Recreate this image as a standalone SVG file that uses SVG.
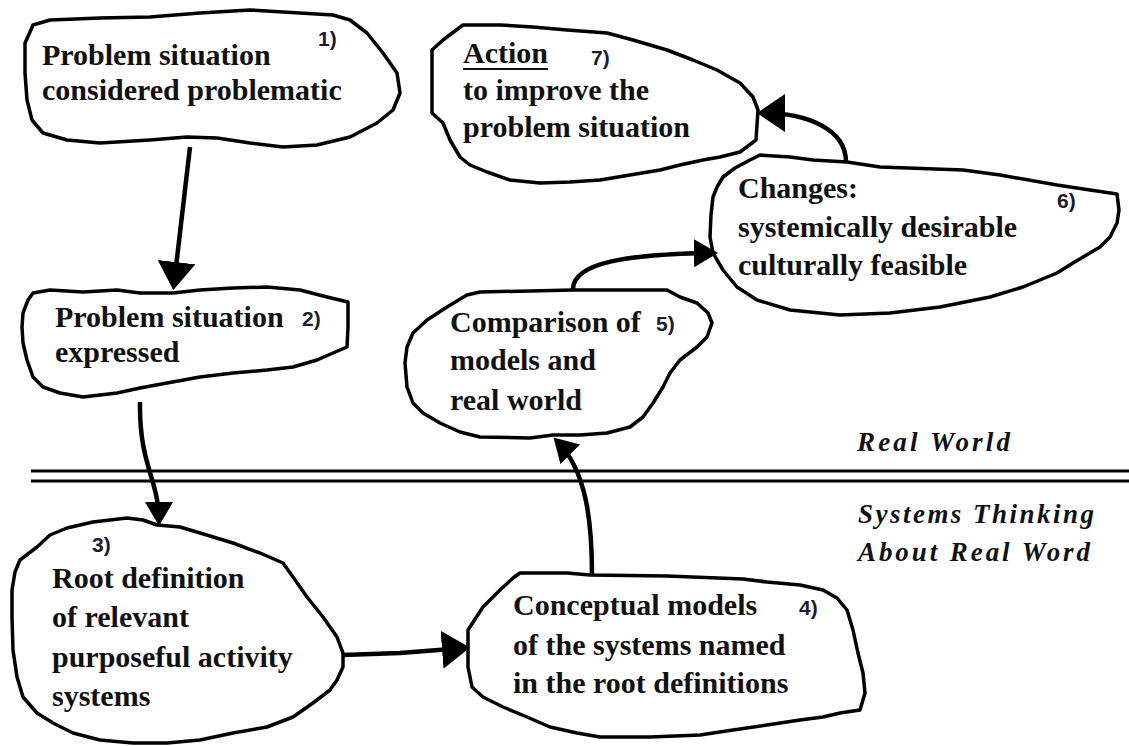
<svg xmlns="http://www.w3.org/2000/svg" width="1129" height="746" viewBox="0 0 1129 746">
  <style>
    .blob { fill: #ffffff; stroke: #000000; stroke-width: 3.5; stroke-linejoin: round; }
    .lbl { font-weight: bold; font-size: 30px; fill: #111111; }
    .num { font-weight: bold; font-size: 21px; fill: #1c1c30; }
    .zone { font-weight: bold; font-style: italic; font-size: 27px; fill: #111111; }
    .conn { fill: none; stroke: #000000; stroke-width: 4.5; stroke-linecap: butt; }
    .sep { stroke: #000000; stroke-width: 3; }
  </style>
  <defs>
    <marker id="arrow" markerUnits="userSpaceOnUse" markerWidth="28" markerHeight="38" viewBox="0 0 28 38" refX="22" refY="19" orient="auto">
      <path d="M0,0 L28,19 L0,38 Z" fill="#000000"/>
    </marker>
    <marker id="arrow-sm" markerUnits="userSpaceOnUse" markerWidth="24" markerHeight="28" viewBox="0 0 24 28" refX="19" refY="14" orient="auto">
      <path d="M0,0 L24,14 L0,28 Z" fill="#000000"/>
    </marker>
  </defs>

  <rect x="0" y="0" width="1129" height="746" fill="#ffffff"/>

  <!-- boundary between the real world and systems thinking -->
  <g id="separator" font-family="Liberation Serif, Times New Roman, serif">
    <line class="sep" x1="31" y1="471" x2="1129" y2="471"/>
    <line class="sep" x1="31" y1="481" x2="1129" y2="481"/>
    <text class="zone" x="857" y="451" textLength="153" lengthAdjust="spacing">Real World</text>
    <text class="zone" x="858" y="523" textLength="236" lengthAdjust="spacing">Systems Thinking</text>
    <text class="zone" x="858" y="561" textLength="232" lengthAdjust="spacing">About Real Word</text>
  </g>

  <!-- 1) problem situation considered problematic -->
  <g id="node1" font-family="Liberation Serif, Times New Roman, serif">
    <path class="blob" d="M33,25 L50,20 L100,18 L150,17 L200,13 L250,10 L283,12 L333,15 L350,20 L367,33 L383,53 L397,73 L400,93 L393,110 L377,123 L350,137 L317,145 L283,147 L250,143 L217,138 L187,137 L150,140 L100,143 L67,140 L43,133 L32,120 L27,100 L25,73 L25,43 L30,32 Z"/>
    <text class="lbl" x="42" y="65">Problem situation</text>
    <text class="lbl" x="42" y="100">considered problematic</text>
    <text class="num" x="318" y="46" font-family="Liberation Sans, Arial, sans-serif">1)</text>
  </g>

  <!-- 2) problem situation expressed -->
  <g id="node2" font-family="Liberation Serif, Times New Roman, serif">
    <path class="blob" d="M33,293 L50,290 L83,292 L117,290 L140,293 L173,293 L200,290 L233,288 L267,287 L300,290 L327,297 L348,302 L348,327 L347,347 L333,353 L317,360 L293,367 L267,370 L233,373 L200,377 L167,383 L140,388 L117,393 L83,397 L60,393 L43,387 L33,377 L27,360 L23,343 L22,327 L23,313 L28,300 Z"/>
    <text class="lbl" x="55" y="327">Problem situation</text>
    <text class="lbl" x="55" y="362">expressed</text>
    <text class="num" x="302" y="326" font-family="Liberation Sans, Arial, sans-serif">2)</text>
  </g>

  <!-- 3) root definitions -->
  <g id="node3" font-family="Liberation Serif, Times New Roman, serif">
    <path class="blob" d="M15,572 L20,560 L37,547 L50,535 L67,528 L93,522 L127,518 L143,520 L157,525 L180,527 L200,533 L233,543 L260,553 L283,563 L293,577 L307,597 L323,617 L337,637 L343,653 L343,667 L337,680 L330,690 L313,703 L293,717 L267,727 L233,733 L200,740 L167,743 L133,743 L100,740 L73,733 L53,723 L37,713 L23,697 L17,677 L13,650 L12,617 L12,590 Z"/>
    <text class="num" x="92" y="552" font-family="Liberation Sans, Arial, sans-serif">3)</text>
    <text class="lbl" x="52" y="588">Root definition</text>
    <text class="lbl" x="52" y="627">of relevant</text>
    <text class="lbl" x="52" y="667">purposeful activity</text>
    <text class="lbl" x="52" y="706">systems</text>
  </g>

  <!-- 4) conceptual models -->
  <g id="node4" font-family="Liberation Serif, Times New Roman, serif">
    <path class="blob" d="M468,630 L483,607 L500,590 L513,578 L520,573 L567,573 L590,575 L667,576 L743,579 L767,582 L800,585 L823,590 L837,598 L847,610 L853,630 L858,653 L863,673 L865,693 L860,710 L840,713 L823,717 L800,720 L767,725 L733,730 L700,735 L650,737 L600,737 L577,733 L550,727 L527,717 L503,707 L483,697 L472,687 L468,667 L468,647 Z"/>
    <text class="lbl" x="513" y="615">Conceptual models</text>
    <text class="lbl" x="513" y="655">of the systems named</text>
    <text class="lbl" x="513" y="693">in the root definitions</text>
    <text class="num" x="799" y="615" font-family="Liberation Sans, Arial, sans-serif">4)</text>
  </g>

  <!-- 5) comparison of models and real world -->
  <g id="node5" font-family="Liberation Serif, Times New Roman, serif">
    <path class="blob" d="M467,295 L480,292 L573,290 L667,290 L680,297 L697,303 L708,313 L712,323 L707,337 L697,347 L680,360 L670,373 L663,387 L653,403 L643,417 L630,427 L607,433 L580,435 L553,435 L530,438 L480,437 L460,432 L440,423 L423,413 L413,403 L407,387 L405,363 L407,347 L413,333 L427,320 L447,307 Z"/>
    <text class="lbl" x="450" y="332">Comparison of</text>
    <text class="lbl" x="450" y="370">models and</text>
    <text class="lbl" x="450" y="410">real world</text>
    <text class="num" x="656" y="331" font-family="Liberation Sans, Arial, sans-serif">5)</text>
  </g>

  <!-- 7) action to improve the problem situation -->
  <g id="node7" font-family="Liberation Serif, Times New Roman, serif">
    <path class="blob" d="M432,50 L443,40 L463,25 L500,25 L533,27 L567,30 L607,33 L633,40 L667,50 L693,60 L717,70 L740,83 L753,97 L758,110 L756,140 L740,152 L720,157 L703,160 L680,165 L660,170 L630,175 L600,180 L570,182 L540,183 L510,180 L487,172 L470,165 L460,157 L450,140 L443,123 L432,113 L432,80 Z"/>
    <text class="lbl" x="463" y="63">Action</text>
    <line x1="463" y1="69" x2="548" y2="69" stroke="#111111" stroke-width="2"/>
    <text class="num" x="591" y="65" font-family="Liberation Sans, Arial, sans-serif">7)</text>
    <text class="lbl" x="463" y="100">to improve the</text>
    <text class="lbl" x="463" y="137">problem situation</text>
  </g>

  <!-- 6) changes -->
  <g id="node6" font-family="Liberation Serif, Times New Roman, serif">
    <path class="blob" d="M760,155 L790,157 L813,160 L847,162 L880,167 L963,170 L1000,175 L1057,185 L1090,190 L1117,194 L1119,210 L1117,223 L1110,237 L1100,247 L1073,263 L1057,273 L1023,287 L990,297 L940,307 L890,313 L840,315 L790,310 L757,300 L737,287 L723,270 L713,253 L710,237 L711,215 L713,197 L717,187 L723,177 L735,168 L750,160 Z"/>
    <text class="lbl" x="738" y="198">Changes:</text>
    <text class="lbl" x="738" y="237">systemically desirable</text>
    <text class="lbl" x="738" y="275">culturally feasible</text>
    <text class="num" x="1057" y="208" font-family="Liberation Sans, Arial, sans-serif">6)</text>
  </g>

  <!-- flow between the stages -->
  <g id="connectors">
    <path class="conn" d="M190,147 L174,284" marker-end="url(#arrow)"/>
    <path class="conn" d="M140,402 C139,465 159,480 159,521" marker-end="url(#arrow-sm)"/>
    <path class="conn" d="M343,655 L400,653 L464,648" marker-end="url(#arrow)"/>
    <path class="conn" d="M592,575 C592,520 586,470 557,441" marker-end="url(#arrow-sm)"/>
    <path class="conn" d="M573,290 C572,262 630,254 713,253" marker-end="url(#arrow-sm)"/>
    <path class="conn" d="M846,162 C846,128 805,113 763,113" marker-end="url(#arrow)"/>
  </g>
</svg>
